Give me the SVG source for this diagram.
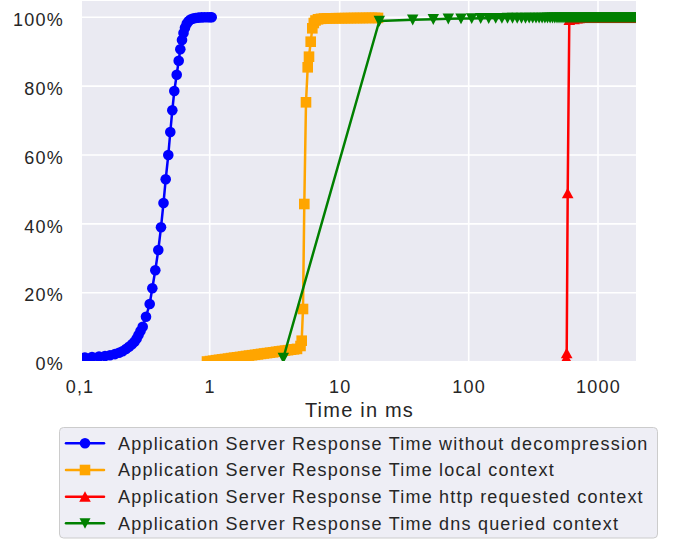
<svg xmlns="http://www.w3.org/2000/svg" width="673" height="539" viewBox="0 0 673 539">
<style>
text{font-family:"Liberation Sans",Arial,sans-serif;font-size:18px;letter-spacing:1.21px;fill:#262626}
.grid{stroke:#ffffff;stroke-width:1.6;fill:none}
.ser{fill:none;stroke-width:2.5;stroke-linejoin:round;stroke-linecap:round}
.yt{text-anchor:end}
.xt{text-anchor:middle}
</style>
<defs>
<clipPath id="plotClip"><rect x="82" y="1" width="554" height="360"/></clipPath>
<marker id="mCirc" markerUnits="userSpaceOnUse" markerWidth="12" markerHeight="12" overflow="visible"><circle r="5.3" fill="#0000ff"/></marker>
<marker id="mSq" markerUnits="userSpaceOnUse" markerWidth="12" markerHeight="12" overflow="visible"><rect x="-5.3" y="-5.3" width="10.6" height="10.6" fill="#ffa500"/></marker>
<marker id="mUp" markerUnits="userSpaceOnUse" markerWidth="12" markerHeight="12" overflow="visible"><polygon points="0,-5.5 -5.8,5 5.8,5" fill="#ff0000"/></marker>
<marker id="mDn" markerUnits="userSpaceOnUse" markerWidth="12" markerHeight="12" overflow="visible"><polygon points="0,5.7 -5.7,-5.2 5.7,-5.2" fill="#008000"/></marker>
</defs>
<rect width="673" height="539" fill="#ffffff"/>
<g id="axes">
<rect x="82" y="1" width="554" height="360" fill="#eaeaf2"/>
<g id="gridlines">
<line class="grid" x1="209.7" y1="1" x2="209.7" y2="361"/>
<line class="grid" x1="339.7" y1="1" x2="339.7" y2="361"/>
<line class="grid" x1="468.7" y1="1" x2="468.7" y2="361"/>
<line class="grid" x1="598" y1="1" x2="598" y2="361"/>
<line class="grid" x1="82" y1="17.3" x2="636" y2="17.3"/>
<line class="grid" x1="82" y1="86.15" x2="636" y2="86.15"/>
<line class="grid" x1="82" y1="155" x2="636" y2="155"/>
<line class="grid" x1="82" y1="223.85" x2="636" y2="223.85"/>
<line class="grid" x1="82" y1="292.7" x2="636" y2="292.7"/>
</g>
<g id="y-ticks">
<text class="yt" x="64" y="26">100%</text>
<text class="yt" x="64" y="94.9">80%</text>
<text class="yt" x="64" y="163.7">60%</text>
<text class="yt" x="64" y="232.6">40%</text>
<text class="yt" x="64" y="301.4">20%</text>
<text class="yt" x="64" y="370.2">0%</text>
</g>
<g id="x-ticks">
<text class="xt" x="80" y="392.5">0,1</text>
<text class="xt" x="210.2" y="392.5">1</text>
<text class="xt" x="340.2" y="392.5">10</text>
<text class="xt" x="469.2" y="392.5">100</text>
<text class="xt" x="598.5" y="392.5">1000</text>
</g>
<text class="xt" x="359.5" y="417" style="font-size:20px">Time in ms</text>
</g>
<g id="connectors" clip-path="url(#plotClip)">
<polyline id="series-blue" class="ser" stroke="#0000ff" marker-start="url(#mCirc)" marker-mid="url(#mCirc)" marker-end="url(#mCirc)" points="85,357.5 92,357.1 99,356.5 105,356 110,355.2 115,354.1 119,352.7 122.5,351.2 126,349 129,346.8 132,344.3 134.5,341.7 136.7,338.5 138.5,335 140.5,331 142.7,326.7 146,316.7 149.7,304 152.3,288.3 155.3,270.3 158.3,250 161,227.3 163.5,203 165.7,179.3 168.3,155 170.3,132 172.3,110.3 174.3,91 176.7,74.7 178.7,60.7 180.3,49.3 182,40 183.5,33 185,27.7 186.7,23.8 188.5,21.2 190.5,19.6 193,18.6 195.5,18 198.5,17.6 201.5,17.4 204.5,17.3 207.5,17.3 210,17.3 211.7,17.3"/>
<polyline id="series-orange" class="ser" stroke="#ffa500" marker-start="url(#mSq)" marker-mid="url(#mSq)" marker-end="url(#mSq)" points="207,361.5 210,361.1 213,360.7 216,360.2 219,359.8 222,359.4 225,359 228,358.6 231,358.1 234,357.7 237,357.3 240,356.9 243,356.5 246,356 249,355.6 252,355.2 255,354.8 258,354.4 261,353.9 264,353.5 267,353.1 270,352.7 273,352.3 276,351.8 279,351.4 282,351 285,350.6 288,350.2 291,349.7 294,349.3 297,348.9 300.5,346 301.7,340.7 303,309 304.3,204 306,102.3 307.7,67.3 309,56.7 310.7,41.7 312.3,28.3 313.8,23 315.5,20.5 318,19.3 321,18.8 324,18.5 327,18.4 330,18.3 333,18.3 336,18.2 339,18.2 342,18.2 345,18.1 348,18.1 351,18.1 354,18 357,18 360,18 363,18 366,17.9 369,17.9 372,17.9 375,17.9 378,17.9"/>
<polyline id="series-red" class="ser" stroke="#ff0000" marker-start="url(#mUp)" marker-mid="url(#mUp)" marker-end="url(#mUp)" points="566.3,358 566.7,353.3 567.7,193.3 569.3,20 574,19.2 577,18.6 579,18.3 581,18 583,17.8 585,17.6 587,17.6 589,17.6 591,17.6 593,17.6 595,17.6 597,17.6 599,17.6 601,17.6 603,17.6 605,17.6 607,17.6 609,17.6 611,17.6 613,17.6 615,17.6 617,17.6 619,17.6 621,17.6 623,17.6 625,17.6 627,17.6 629,17.6 631,17.6 633,17.6 635,17.6 637,17.6 639,17.6"/>
<polyline id="series-green" class="ser" stroke="#008000" marker-start="url(#mDn)" marker-mid="url(#mDn)" marker-end="url(#mDn)" points="283.3,358 379.3,21 412.7,19.8 433.3,19.2 448.3,18.8 461,18.6 471.7,18.4 480.7,18.3 488.7,18.2 495.7,18.1 501.9,18.1 507.5,18 512.5,18 517.2,18 521.5,18 525.5,18 529.2,17.9 532.7,17.9 536,17.9 539.1,17.9 542.1,17.9 544.9,17.9 547.5,17.8 550.1,17.8 552.5,17.8 554.8,17.8 557,17.8 559,17.8 561,17.8 563,17.8 565,17.8 567,17.8 569,17.8 571,17.8 573,17.8 575,17.8 577,17.8 579,17.8 581,17.8 583,17.8 585,17.8 587,17.8 589,17.8 591,17.8 593,17.8 595,17.8 597,17.8 599,17.8 601,17.8 603,17.8 605,17.8 607,17.8 609,17.8 611,17.8 613,17.8 615,17.8 617,17.8 619,17.8 621,17.8 623,17.8 625,17.8 627,17.8 629,17.8 631,17.8 633,17.8 635,17.8 637,17.8 639,17.8"/>
</g>
<g id="legend">
<rect x="59.5" y="427.5" width="598" height="110.5" rx="4" fill="#eaeaf2" fill-opacity="0.8" stroke="#cccccc" stroke-width="1"/>
<g id="legend-blue">
<line class="ser" x1="66" y1="443.3" x2="104" y2="443.3" stroke="#0000ff"/>
<circle cx="85" cy="443.3" r="5.3" fill="#0000ff"/>
<text x="118" y="449.5">Application Server Response Time without decompression</text>
</g>
<g id="legend-orange">
<line class="ser" x1="66" y1="470" x2="104" y2="470" stroke="#ffa500"/>
<rect x="79.7" y="464.7" width="10.6" height="10.6" fill="#ffa500"/>
<text x="118" y="476.2">Application Server Response Time local context</text>
</g>
<g id="legend-red">
<line class="ser" x1="66" y1="496.7" x2="104" y2="496.7" stroke="#ff0000"/>
<polygon points="85,491.2 79.2,501.7 90.8,501.7" fill="#ff0000"/>
<text x="118" y="502.9">Application Server Response Time http requested context</text>
</g>
<g id="legend-green">
<line class="ser" x1="66" y1="523.3" x2="104" y2="523.3" stroke="#008000"/>
<polygon points="85,528.8 79.5,518.3 90.5,518.3" fill="#008000"/>
<text x="118" y="529.5">Application Server Response Time dns queried context</text>
</g>
</g>
</svg>
